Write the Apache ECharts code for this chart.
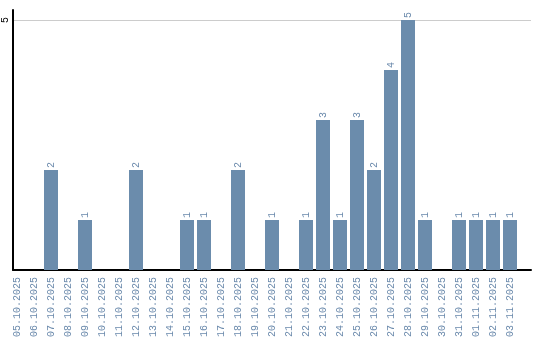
<!DOCTYPE html>
<html><head><meta charset="utf-8">
<script src="https://cdn.jsdelivr.net/npm/echarts@6/dist/echarts.min.js"></script>
<style>html,body{margin:0;padding:0;background:#fff}#c{width:540px;height:340px}</style>
</head><body><div id="c"></div>
<script>
var categories = ['05.10.2025','06.10.2025','07.10.2025','08.10.2025','09.10.2025','10.10.2025','11.10.2025','12.10.2025','13.10.2025','14.10.2025','15.10.2025','16.10.2025','17.10.2025','18.10.2025','19.10.2025','20.10.2025','21.10.2025','22.10.2025','23.10.2025','24.10.2025','25.10.2025','26.10.2025','27.10.2025','28.10.2025','29.10.2025','30.10.2025','31.10.2025','01.11.2025','02.11.2025','03.11.2025'];
var counts = [0,0,2,0,1,0,0,2,0,0,1,1,0,2,0,1,0,1,3,1,3,2,4,5,1,0,1,1,1,1];
var yTicks = [5];
var yMax = 5.2;

var FONT = 'Liberation Mono';
var TXT = '#6b8aac';
var BAR = '#6b8cac';

var chart = echarts.init(document.getElementById('c'), null, {renderer: 'canvas'});
chart.setOption({
  animation: false,
  grid: [
    {left: 8.5, right: 21.5, top: 10, bottom: 70, containLabel: false},
    {left: 10, right: 9, top: 10, bottom: 70, containLabel: false}
  ],
  xAxis: [
    {type: 'category', gridIndex: 0, data: categories,
     axisLine: {show: false}, axisTick: {show: false},
     axisLabel: {rotate: 90, interval: 0, margin: 7, color: TXT, fontFamily: FONT, fontSize: 10}},
    {type: 'value', gridIndex: 1, min: 0, max: 1,
     axisLine: {show: true, lineStyle: {color: '#000', width: 2}}, axisTick: {show: false},
     axisLabel: {show: false}, splitLine: {show: false}}
  ],
  yAxis: [
    {type: 'value', gridIndex: 0, min: 0, max: yMax, show: false, splitLine: {show: false}},
    {type: 'value', gridIndex: 1, min: 0, max: yMax, interval: 5,
     axisLine: {show: true, lineStyle: {color: '#000', width: 2}}, axisTick: {show: false},
     axisLabel: {rotate: 90, margin: 3, color: '#000', fontFamily: FONT, fontSize: 10,
       formatter: function (v) { return yTicks.indexOf(v) >= 0 ? String(v) : ''; }},
     splitLine: {show: true, lineStyle: {color: ['rgba(0,0,0,0)', '#cccccc', 'rgba(0,0,0,0)'], width: 1}}}
  ],
  series: [{
    type: 'bar', xAxisIndex: 0, yAxisIndex: 0, data: counts, barWidth: 14,
    itemStyle: {color: BAR},
    label: {show: true, position: 'top', rotate: 90, align: 'left', verticalAlign: 'middle', distance: 2,
      color: TXT, fontFamily: FONT, fontSize: 10,
      formatter: function (p) { return p.value ? String(p.value) : ''; }}
  }]
});
</script></body></html>
